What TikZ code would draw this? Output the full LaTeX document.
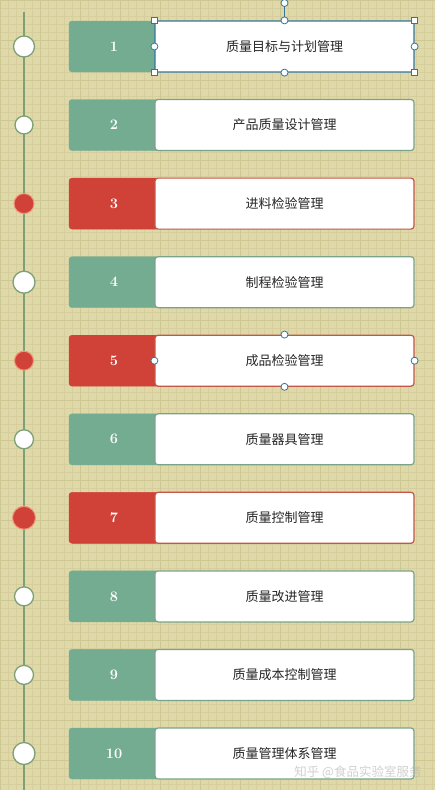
\documentclass[tikz,border=0pt]{standalone}
\usepackage{fontspec}
\newfontfamily\cjk{Noto Sans CJK SC}
\usetikzlibrary{positioning,backgrounds}

\definecolor{paper}{RGB}{223,216,168}
\definecolor{gridminor}{RGB}{214,207,157}
\definecolor{gridmajor}{RGB}{205,199,146}
\definecolor{timeline}{RGB}{126,160,118}
\definecolor{tealfill}{RGB}{116,172,146}
\definecolor{tealline}{RGB}{122,164,138}
\definecolor{redfill}{RGB}{208,66,56}
\definecolor{redline}{RGB}{196,86,72}
\definecolor{redring}{RGB}{240,152,122}
\definecolor{selblue}{RGB}{52,118,158}

\begin{document}
\begin{tikzpicture}[x=1pt,y=-1pt,
    numbox/.style={rectangle, rounded corners=3pt, minimum width=90pt, minimum height=51pt, inner sep=0pt, text=white, font=\bfseries\fontsize{14.5}{14}\selectfont},
    oknum/.style={numbox, fill=tealfill, draw=tealfill},
    badnum/.style={numbox, fill=redfill, draw=redfill},
    item/.style={rectangle, draw, fill=white, rounded corners=3pt, line width=1.2pt, minimum width=259pt, minimum height=51pt, text=black!85, font=\cjk\fontsize{13}{14}\selectfont},
    okitem/.style={item, draw=tealline},
    baditem/.style={item, draw=redline},
    dot/.style={circle, draw=timeline, fill=white, line width=1.3pt, inner sep=0pt},
    reddot/.style={circle, draw=redring, fill=redfill, line width=1pt, inner sep=0pt},
    grip/.style={rectangle, draw=selblue, fill=white, line width=0.8pt, minimum size=6pt, inner sep=0pt},
    knob/.style={circle, draw=selblue, fill=white, line width=0.8pt, minimum size=7pt, inner sep=0pt}
]

    % Fond quadrillé
    \fill[paper] (0,0) rectangle (435,790);
    \useasboundingbox (0,0) rectangle (435,790);
    \foreach \gx in {0,8,...,432} \draw[gridminor, line width=0.4pt] (\gx,0) -- (\gx,790);
    \foreach \gy in {0,8,...,784} \draw[gridminor, line width=0.4pt] (0,\gy) -- (435,\gy);
    \foreach \gx in {0,40,...,432} \draw[gridmajor, line width=0.6pt] (\gx,0) -- (\gx,790);
    \foreach \gy in {0,40,...,784} \draw[gridmajor, line width=0.6pt] (0,\gy) -- (435,\gy);

    % Ligne de temps
    \coordinate (top) at (24,12);
    \coordinate (bottom) at (24,790);
    \draw[timeline, line width=1.5pt] (top) -- (bottom);

    % Étape 1
    \node[dot, minimum size=21pt] (c1) at (24,46.5) {};
    \node[oknum] (n1) at (114,46.5) {1};
    \node[item, draw=selblue] (q1) at (284.5,46.5) {质量目标与计划管理};

    % Étape 2
    \node[dot, minimum size=18pt] (c2) at (24,125) {};
    \node[oknum] (n2) at (114,125) {2};
    \node[okitem] (q2) at (284.5,125) {产品质量设计管理};

    % Étape 3
    \node[reddot, minimum size=20pt] (c3) at (24,203.6) {};
    \node[badnum] (n3) at (114,203.6) {3};
    \node[baditem] (q3) at (284.5,203.6) {进料检验管理};

    % Étape 4
    \node[dot, minimum size=22pt] (c4) at (24,282.2) {};
    \node[oknum] (n4) at (114,282.2) {4};
    \node[okitem] (q4) at (284.5,282.2) {制程检验管理};

    % Étape 5
    \node[reddot, minimum size=19pt] (c5) at (24,360.7) {};
    \node[badnum] (n5) at (114,360.7) {5};
    \node[baditem] (q5) at (284.5,360.7) {成品检验管理};

    % Étape 6
    \node[dot, minimum size=19pt] (c6) at (24,439.3) {};
    \node[oknum] (n6) at (114,439.3) {6};
    \node[okitem] (q6) at (284.5,439.3) {质量器具管理};

    % Étape 7
    \node[reddot, minimum size=23pt] (c7) at (24,517.8) {};
    \node[badnum] (n7) at (114,517.8) {7};
    \node[baditem] (q7) at (284.5,517.8) {质量控制管理};

    % Étape 8
    \node[dot, minimum size=19pt] (c8) at (24,596.4) {};
    \node[oknum] (n8) at (114,596.4) {8};
    \node[okitem] (q8) at (284.5,596.4) {质量改进管理};

    % Étape 9
    \node[dot, minimum size=19pt] (c9) at (24,674.9) {};
    \node[oknum] (n9) at (114,674.9) {9};
    \node[okitem] (q9) at (284.5,674.9) {质量成本控制管理};

    % Étape 10
    \node[dot, minimum size=22pt] (c10) at (24,753.5) {};
    \node[oknum] (n10) at (114,753.5) {10};
    \node[okitem] (q10) at (284.5,753.5) {质量管理体系管理};

    % Poignées de sélection
    \node[knob] (rot) at (284.5,3) {};
    \draw[selblue, line width=0.8pt] (q1.north) -- (rot);
    \node[grip] (g1) at (q1.north west) {};
    \node[grip] (g2) at (q1.north east) {};
    \node[grip] (g3) at (q1.south west) {};
    \node[grip] (g4) at (q1.south east) {};
    \node[knob] (k1) at (q1.north) {};
    \node[knob] (k2) at (q1.south) {};
    \node[knob] (k3) at (q1.west) {};
    \node[knob] (k4) at (q1.east) {};
    \node[knob] (k5) at (q5.north) {};
    \node[knob] (k6) at (q5.south) {};
    \node[knob] (k7) at (q5.west) {};
    \node[knob] (k8) at (q5.east) {};

    % Filigrane
    \node[text=black!30, text opacity=0.6, font=\cjk\fontsize{12.5}{14}\selectfont] (mark) at (358,772) {知乎 @食品实验室服务};

\end{tikzpicture}
\end{document}
